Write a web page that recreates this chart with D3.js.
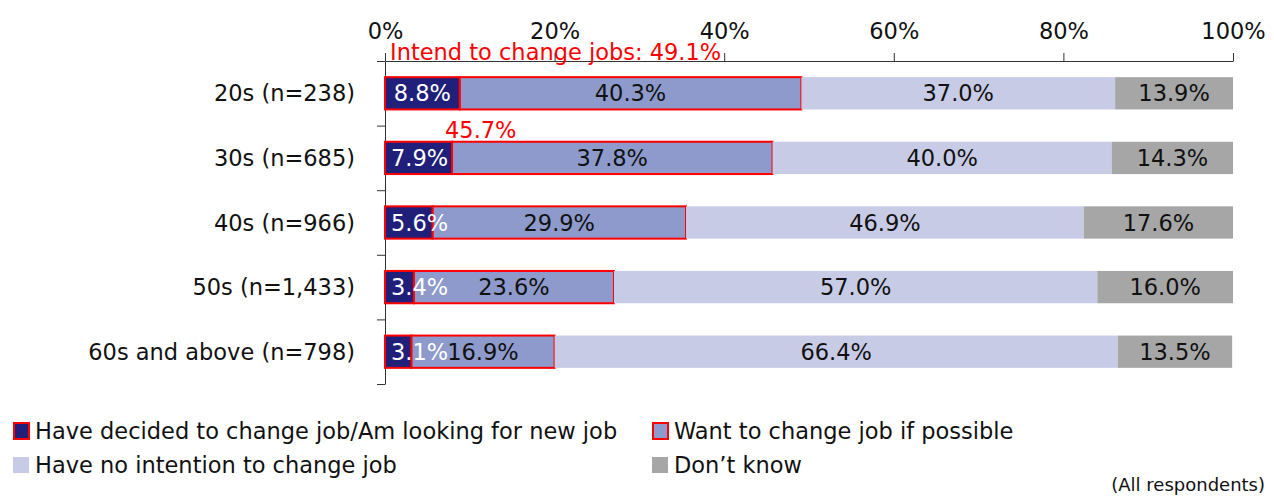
<!DOCTYPE html>
<html>
<head>
<meta charset="utf-8">
<script src="https://cdn.jsdelivr.net/npm/d3@7"></script>
<style>
  body { margin: 0; background: #fff; }
  svg text { font-family: "DejaVu Sans", Verdana, sans-serif; }
</style>
</head>
<body>
<div id="chart"></div>
<script>
// data
var categories = ["20s (n=238)", "30s (n=685)", "40s (n=966)", "50s (n=1,433)", "60s and above (n=798)"]
var decided = [8.8, 7.9, 5.6, 3.4, 3.1]
var wantChange = [40.3, 37.8, 29.9, 23.6, 16.9]
var noIntention = [37.0, 40.0, 46.9, 57.0, 66.4]
var dontKnow = [13.9, 14.3, 17.6, 16.0, 13.5]
var seriesNames = ["Have decided to change job/Am looking for new job", "Want to change job if possible",
                   "Have no intention to change job", "Don\u2019t know"]
var xTicks = [0, 20, 40, 60, 80, 100]
var annotations = ["Intend to change jobs: 49.1%", "45.7%"]
var note = "(All respondents)"

var colors = ["#20207a", "#8e9acb", "#c8cbe5", "#a6a6a6"]
var labelColors = ["#fff", "#111", "#111", "#111"]

var W = 1274, H = 496
var mLeft = 385, mRight = 1233, mTop = 61, mBottom = 384
var fs = 22.5

var svg = d3.select("#chart").append("svg")
    .attr("width", W).attr("height", H)

var x = d3.scaleLinear().domain([0, 100]).range([mLeft, mRight])
var y = d3.scaleBand().domain(categories).range([mTop, mBottom]).paddingInner(0.5).paddingOuter(0.25)

// top axis
svg.append("g")
    .attr("transform", "translate(0," + mTop + ")")
    .call(d3.axisTop(x).tickValues(xTicks).tickSize(8).tickSizeOuter(0).tickFormat(function(d) { return d + "%" }))
    .call(function(g) {
        g.selectAll("line").attr("stroke", "#333")
        g.select(".domain").attr("stroke", "#333")
        g.selectAll("text").attr("font-size", fs).attr("fill", "#111").attr("y", -22).attr("dy", "0")
            .style("font-family", "DejaVu Sans, Verdana, sans-serif")
    })

// left axis, ticks on band boundaries
var yLin = d3.scaleLinear().domain([0, categories.length]).range([mTop, mBottom])
svg.append("g")
    .attr("transform", "translate(" + mLeft + ",0)")
    .call(d3.axisLeft(yLin).ticks(categories.length).tickSize(8).tickSizeOuter(0).tickFormat(""))
    .call(function(g) {
        g.selectAll("line").attr("stroke", "#333")
        g.select(".domain").attr("stroke", "#333")
    })

// category labels
svg.selectAll(".cat")
    .data(categories)
    .join("text")
    .attr("x", 355)
    .attr("y", function(d) { return y(d) + y.bandwidth() / 2 })
    .attr("dy", "0.36em")
    .attr("text-anchor", "end")
    .attr("font-size", fs)
    .attr("fill", "#111")
    .text(function(d) { return d })

// stack
var rows = categories.map(function(c, i) {
    return { cat: c, s0: decided[i], s1: wantChange[i], s2: noIntention[i], s3: dontKnow[i] }
})
var stacked = d3.stack().keys(["s0", "s1", "s2", "s3"])(rows)

var layers = svg.append("g").selectAll("g")
    .data(stacked)
    .join("g")

layers.selectAll("rect")
    .data(function(d, k) { return d.map(function(v) { return { v: v, k: k } }) })
    .join("rect")
    .attr("x", function(d) { return x(d.v[0]) })
    .attr("y", function(d) { return y(d.v.data.cat) })
    .attr("width", function(d) { return x(d.v[1]) - x(d.v[0]) })
    .attr("height", y.bandwidth())
    .attr("fill", function(d) { return colors[d.k] })
    .attr("stroke", function(d) { return d.k < 2 ? "#ff0000" : "none" })
    .attr("stroke-width", 2)

layers.filter(function(d, k) { return k === 0 }).raise()

// value labels
var labelLayer = svg.append("g")
stacked.forEach(function(layer, k) {
    labelLayer.append("g").selectAll("text")
        .data(layer)
        .join("text")
        .attr("y", function(d) { return y(d.data.cat) + y.bandwidth() / 2 })
        .attr("dy", "0.36em")
        .attr("font-size", fs)
        .attr("fill", labelColors[k])
        .attr("text-anchor", "middle")
        .text(function(d) { return (d[1] - d[0]).toFixed(1) + "%" })
        .attr("x", function(d) {
            var cx = (x(d[0]) + x(d[1])) / 2
            var w = this.getComputedTextLength()
            return Math.max(cx, x(d[0]) + 6 + w / 2)
        })
})
// white labels drawn last
labelLayer.select("g").raise()

// annotations
var annX = [390, 445]
var annY = [52, 130]
svg.selectAll(".ann")
    .data(annotations)
    .join("text")
    .attr("x", function(d, i) { return annX[i] })
    .attr("y", function(d, i) { return annY[i] })
    .attr("dy", "0.36em")
    .attr("font-size", fs)
    .attr("fill", "#ff0000")
    .text(function(d) { return d })

// legend
var legX = [13, 652], legY = [431, 465]
var leg = svg.selectAll(".leg")
    .data(seriesNames)
    .join("g")
    .attr("transform", function(d, i) { return "translate(" + legX[i % 2] + "," + legY[Math.floor(i / 2)] + ")" })
leg.append("rect")
    .attr("x", function(d, i) { return i < 2 ? 1 : 0 })
    .attr("y", -8)
    .attr("width", function(d, i) { return i < 2 ? 15 : 16 })
    .attr("height", 16)
    .attr("fill", function(d, i) { return colors[i] })
    .attr("stroke", function(d, i) { return i < 2 ? "#ff0000" : "none" })
    .attr("stroke-width", 2)
leg.append("text")
    .attr("x", 22)
    .attr("dy", "0.36em")
    .attr("font-size", fs)
    .attr("fill", "#111")
    .text(function(d) { return d })

svg.append("text")
    .attr("x", 1265)
    .attr("y", 485)
    .attr("dy", "0.36em")
    .attr("text-anchor", "end")
    .attr("font-size", 18)
    .attr("fill", "#111")
    .text(note)
</script>
</body>
</html>
